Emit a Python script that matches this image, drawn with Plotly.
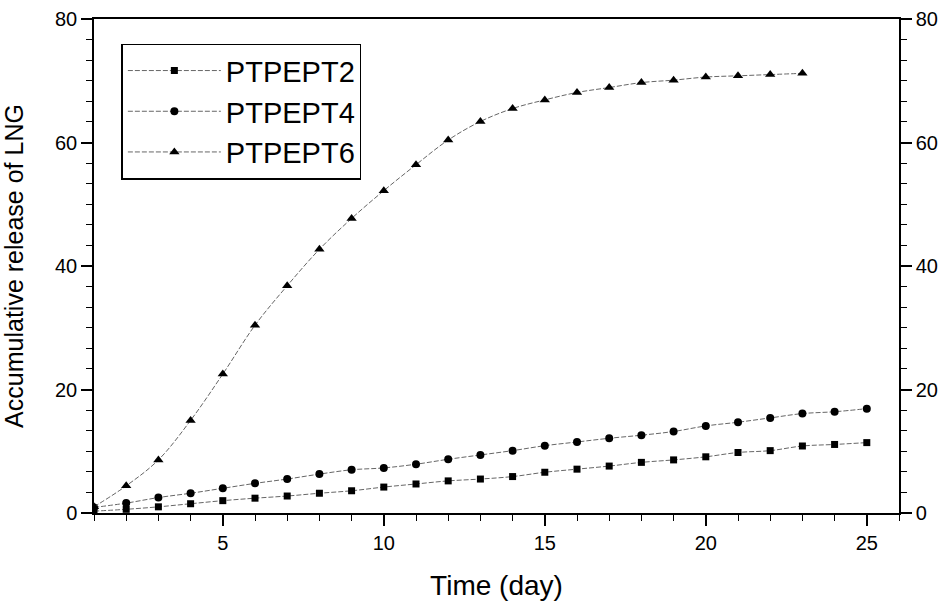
import plotly.graph_objects as go

days = list(range(1, 26))
days6 = list(range(1, 24))

ptpept2 = [0.3, 0.6, 1.0, 1.5, 2.0, 2.4, 2.75, 3.2, 3.6, 4.2, 4.7, 5.2, 5.5,
           5.9, 6.6, 7.1, 7.6, 8.2, 8.6, 9.1, 9.8, 10.1, 10.85, 11.1, 11.4]
ptpept4 = [0.9, 1.6, 2.5, 3.2, 4.0, 4.8, 5.5, 6.3, 7.0, 7.3, 7.9, 8.7, 9.4,
           10.1, 10.9, 11.5, 12.1, 12.6, 13.2, 14.1, 14.7, 15.4, 16.1, 16.4, 16.9]
ptpept6 = [1.0, 4.4, 8.6, 15.0, 22.5, 30.4, 36.8, 42.7, 47.7, 52.2, 56.4, 60.4,
           63.4, 65.5, 66.9, 68.1, 68.9, 69.7, 70.1, 70.6, 70.8, 71.0, 71.2]

series = [
    ("PTPEPT2", days, ptpept2, "square", 7),
    ("PTPEPT4", days, ptpept4, "circle", 8),
    ("PTPEPT6", days6, ptpept6, "triangle-up", 9),
]

FONT = "Liberation Sans, Arial, sans-serif"
fig = go.Figure()
for name, xs, ys, sym, sz in series:
    fig.add_trace(go.Scatter(
        x=xs, y=ys, name=name, mode="lines+markers",
        line=dict(color="#666666", width=1, shape="spline", dash="5px,2px"),
        marker=dict(symbol=sym, size=sz, color="black"),
    ))

# invisible trace so that the right-hand axis is drawn
fig.add_trace(go.Scatter(x=days, y=ptpept2, yaxis="y2", mode="markers",
                         marker=dict(opacity=0), showlegend=False, hoverinfo="skip"))

axis_common = dict(
    showline=True, linecolor="black", linewidth=1.5,
    ticks="outside", ticklen=11, tickwidth=1.5, tickcolor="black",
    showgrid=False, zeroline=False, automargin=False,
    tickfont=dict(family=FONT, size=20, color="black"),
)

fig.update_layout(
    template="none",
    width=948, height=602,
    margin=dict(l=94, r=49, t=19, b=89, autoexpand=False),
    paper_bgcolor="white", plot_bgcolor="white",
    font=dict(family=FONT, color="black"),
    xaxis=dict(
        range=[1, 26], tick0=0, dtick=5, mirror=True,
        minor=dict(ticks="outside", ticklen=6, tickwidth=1.2, tickcolor="black", dtick=1, tick0=0),
        title=dict(text="Time (day)", font=dict(family=FONT, size=28), standoff=23),
        **axis_common,
    ),
    yaxis=dict(
        range=[0, 80], tick0=0, dtick=20,
        minor=dict(ticks="outside", ticklen=6, tickwidth=1.2, tickcolor="black", dtick=20 / 6, tick0=0),
        title=dict(text="Accumulative release of LNG", font=dict(family=FONT, size=25), standoff=30),
        **axis_common,
    ),
    yaxis2=dict(
        range=[0, 80], tick0=0, dtick=20, overlaying="y", side="right", anchor="x",
        minor=dict(ticks="outside", ticklen=6, tickwidth=1.2, tickcolor="black", dtick=20 / 6, tick0=0),
        **axis_common,
    ),
    legend=dict(
        x=0.034, y=0.950, xanchor="left", yanchor="top",
        bgcolor="white", bordercolor="black", borderwidth=1.5,
        font=dict(family=FONT, size=29, color="black"),
        itemwidth=93, tracegroupgap=0,
    ),
    showlegend=True,
)

fig.write_html("out.html", config={"displayModeBar": False},
               post_script="document.body.style.margin='0';")
